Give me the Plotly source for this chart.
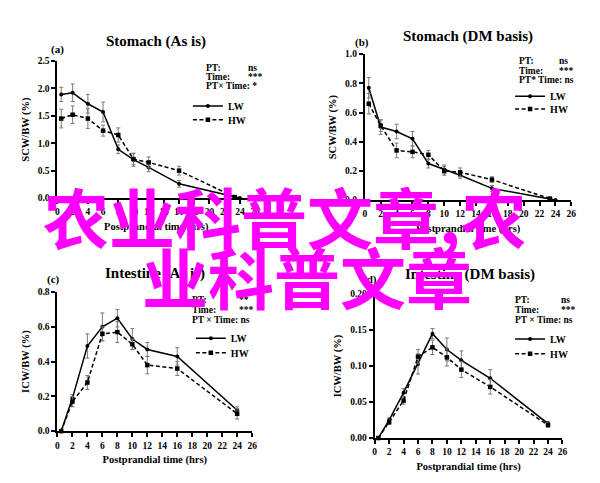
import plotly.graph_objects as go

W, H = 600, 483

# ---------------- data ----------------
# (a) Stomach (As is)
a_lw_x = [0.5, 2, 4, 6, 8, 10, 12, 16, 24]
a_lw_y = [1.89, 1.92, 1.72, 1.57, 0.89, 0.70, 0.56, 0.26, 0.00]
a_lw_e = [0.13, 0.16, 0.17, 0.18, 0.08, 0.12, 0.08, 0.06, 0.0]
a_hw_x = [0.5, 2, 4, 6, 8, 10, 12, 16, 23.3]
a_hw_y = [1.45, 1.52, 1.45, 1.23, 1.15, 0.71, 0.65, 0.50, 0.02]
a_hw_e = [0.17, 0.16, 0.18, 0.10, 0.13, 0.10, 0.10, 0.08, 0.0]

# (b) Stomach (DM basis)
b_lw_x = [0.5, 2, 4, 6, 8, 10, 12, 16, 24]
b_lw_y = [0.77, 0.50, 0.47, 0.42, 0.25, 0.21, 0.17, 0.08, 0.00]
b_lw_e = [0.07, 0.05, 0.05, 0.05, 0.03, 0.03, 0.02, 0.02, 0.0]
b_hw_x = [0.5, 2, 4, 6, 8, 10, 12, 16, 23.3]
b_hw_y = [0.66, 0.51, 0.34, 0.33, 0.31, 0.20, 0.19, 0.14, 0.01]
b_hw_e = [0.07, 0.04, 0.05, 0.04, 0.03, 0.03, 0.03, 0.02, 0.0]

# (c) Intestine (As is)
c_lw_x = [0.5, 2, 4, 6, 8, 10, 12, 16, 24]
c_lw_y = [0.00, 0.19, 0.49, 0.60, 0.65, 0.53, 0.47, 0.43, 0.12]
c_lw_e = [0.0, 0.02, 0.07, 0.08, 0.05, 0.06, 0.04, 0.05, 0.02]
c_hw_x = [0.5, 2, 4, 6, 8, 10, 12, 16, 24]
c_hw_y = [0.00, 0.17, 0.28, 0.56, 0.57, 0.50, 0.38, 0.36, 0.10]
c_hw_e = [0.0, 0.03, 0.04, 0.04, 0.06, 0.03, 0.05, 0.04, 0.03]

# (d) Intestine (DM basis)
d_lw_x = [0.5, 2, 4, 6, 8, 10, 12, 16, 24]
d_lw_y = [0.000, 0.025, 0.063, 0.103, 0.145, 0.123, 0.108, 0.083, 0.020]
d_lw_e = [0.0, 0.003, 0.006, 0.014, 0.007, 0.016, 0.013, 0.012, 0.003]
d_hw_x = [0.5, 2, 4, 6, 8, 10, 12, 16, 24]
d_hw_y = [0.000, 0.022, 0.052, 0.113, 0.126, 0.112, 0.095, 0.071, 0.018]
d_hw_e = [0.0, 0.003, 0.005, 0.010, 0.010, 0.012, 0.011, 0.010, 0.003]

x_ticks = list(range(0, 27, 2))
titles = ["Stomach (As is)", "Stomach (DM basis)", "Intestine (As is)", "Intestine (DM basis)"]
letters = ["(a)", "(b)", "(c)", "(d)"]
y_titles = ["SCW/BW (%)", "SCW/BW (%)", "ICW/BW (%)", "ICW/BW (%)"]
x_title = "Postprandial time (hrs)"
stats = [
    [("PT:", "ns"), ("Time:", "***"), ("PT\u00d7 Time: *", None)],
    [("PT:", "ns"), ("Time:", "***"), ("PT* Time: ns", None)],
    [("PT:", "**"), ("Time:", "***"), ("PT \u00d7 Time: ns", None)],
    [("PT:", "ns"), ("Time:", "***"), ("PT \u00d7 Time: ns", None)],
]
series_names = ["LW", "HW"]
watermark_1 = "农业科普文章,农"
watermark_2 = "业科普文章"

# ---------------- layout geometry (pixels) ----------------
def px(x):
    return x / W

def py(y):
    return 1 - y / H

panels = [
    dict(x0=48, x1=248, y0=49, y1=189, yr=[0, 2.5], dt=0.5, fmt=".1f",
         title=(148, 29), letter=(48, 37), ytitle_x=23, xtitle_y=214,
         stat_x=196, stat_vx=239, stat_y=[56, 65, 75], leg_x=180, leg_y=[95, 109]),
    dict(x0=359, x1=568, y0=42, y1=191, yr=[0, 1.0], dt=0.2, fmt=".1f",
         title=(463, 24), letter=(356, 30), ytitle_x=337, xtitle_y=214,
         stat_x=513, stat_vx=553, stat_y=[49, 59, 68], leg_x=506, leg_y=[85, 98]),
    dict(x0=48, x1=245, y0=285, y1=427, yr=[0, 0.8], dt=0.2, fmt=".1f",
         title=(147, 266), letter=(44, 272), ytitle_x=23, xtitle_y=452,
         stat_x=182, stat_vx=230, stat_y=[293, 303, 314], leg_x=183, leg_y=[332, 347]),
    dict(x0=369, x1=559, y0=287, y1=434, yr=[0, 0.20], dt=0.05, fmt=".2f",
         title=(465, 267), letter=(364, 272), ytitle_x=339, xtitle_y=460,
         stat_x=509, stat_vx=555, stat_y=[293, 303, 314], leg_x=506, leg_y=[333, 348]),
]

data = [
    ((a_lw_x, a_lw_y, a_lw_e), (a_hw_x, a_hw_y, a_hw_e)),
    ((b_lw_x, b_lw_y, b_lw_e), (b_hw_x, b_hw_y, b_hw_e)),
    ((c_lw_x, c_lw_y, c_lw_e), (c_hw_x, c_hw_y, c_hw_e)),
    ((d_lw_x, d_lw_y, d_lw_e), (d_hw_x, d_hw_y, d_hw_e)),
]

SERIF = "Liberation Serif"
fig = go.Figure()
layout = {}
annotations = []

leg_idx = 0
for i, (p, series) in enumerate(zip(panels, data)):
    n = "" if i == 0 else str(i + 1)
    xa = "x" + n
    ya = "y" + n
    for j, (sx, sy, se) in enumerate(series):
        leg_idx += 1
        lname = "legend" if leg_idx == 1 else "legend%d" % leg_idx
        fig.add_trace(go.Scatter(
            x=sx, y=sy, xaxis=xa, yaxis=ya,
            mode="lines+markers", name=series_names[j],
            line=dict(color="black", width=1.5, dash="solid" if j == 0 else "4px,2.5px"),
            marker=dict(color="black", size=4 if j == 0 else 4.5,
                        symbol="circle" if j == 0 else "square"),
            error_y=dict(type="data", array=se, color="#7a7a7a", thickness=1, width=2),
            cliponaxis=False, legend=lname, showlegend=True,
        ))
        layout[lname] = dict(
            x=px(p["leg_x"]), y=py(p["leg_y"][j]), xanchor="left", yanchor="middle",
            bgcolor="rgba(0,0,0,0)", borderwidth=0, itemwidth=30,
            font=dict(family=SERIF, size=10, color="black", weight="bold"),
        )
    axis_common = dict(showline=True, linecolor="black", linewidth=2, ticks="outside",
                       ticklen=4, tickwidth=1.5, tickcolor="black", showgrid=False,
                       zeroline=False,
                       tickfont=dict(family=SERIF, size=9.5, color="black", weight="bold"))
    layout["xaxis" + n] = dict(axis_common, domain=[px(p["x0"]), px(p["x1"])],
                                anchor=ya, range=[0, 26], tickvals=x_ticks,
                                title=dict(text=x_title, standoff=6,
                                           font=dict(family=SERIF, size=10.5, color="black", weight="bold")))
    layout["yaxis" + n] = dict(axis_common, domain=[py(p["y1"]), py(p["y0"])],
                                anchor=xa, range=p["yr"], dtick=p["dt"], tickformat=p["fmt"],
                                title=dict(text=y_titles[i], standoff=6,
                                           font=dict(family=SERIF, size=10.5, color="black", weight="bold")))
    # title and letter
    annotations.append(dict(text="<b>%s</b>" % titles[i], x=px(p["title"][0]), y=py(p["title"][1]),
                            xref="paper", yref="paper", showarrow=False, xanchor="center", yanchor="middle",
                            font=dict(family=SERIF, size=15, color="black")))
    annotations.append(dict(text="<b>%s</b>" % letters[i], x=px(p["letter"][0]), y=py(p["letter"][1]),
                            xref="paper", yref="paper", showarrow=False, xanchor="center", yanchor="middle",
                            font=dict(family=SERIF, size=11, color="black")))
    for k, (lab, val) in enumerate(stats[i]):
        annotations.append(dict(text="<b>%s</b>" % lab, x=px(p["stat_x"]), y=py(p["stat_y"][k]),
                                xref="paper", yref="paper", showarrow=False, xanchor="left", yanchor="middle",
                                font=dict(family=SERIF, size=9.5, color="black")))
        if val:
            annotations.append(dict(text="<b>%s</b>" % val, x=px(p["stat_vx"]), y=py(p["stat_y"][k]),
                                    xref="paper", yref="paper", showarrow=False, xanchor="left", yanchor="middle",
                                    font=dict(family=SERIF, size=9.5, color="black")))

# watermark
annotations.append(dict(text="<b>%s</b>" % watermark_1, x=px(278), y=py(206), xref="paper", yref="paper",
                        showarrow=False, xanchor="center", yanchor="middle",
                        font=dict(family="Noto Sans CJK SC", size=66, color="#ff00ff")))
annotations.append(dict(text="<b>%s</b>" % watermark_2, x=px(301), y=py(268), xref="paper", yref="paper",
                        showarrow=False, xanchor="center", yanchor="middle",
                        font=dict(family="Noto Sans CJK SC", size=66, color="#ff00ff")))

fig.update_layout(
    width=W, height=H, margin=dict(l=0, r=0, t=0, b=0),
    paper_bgcolor="white", plot_bgcolor="white",
    annotations=annotations, **layout,
)

fig.write_html("out.html")
